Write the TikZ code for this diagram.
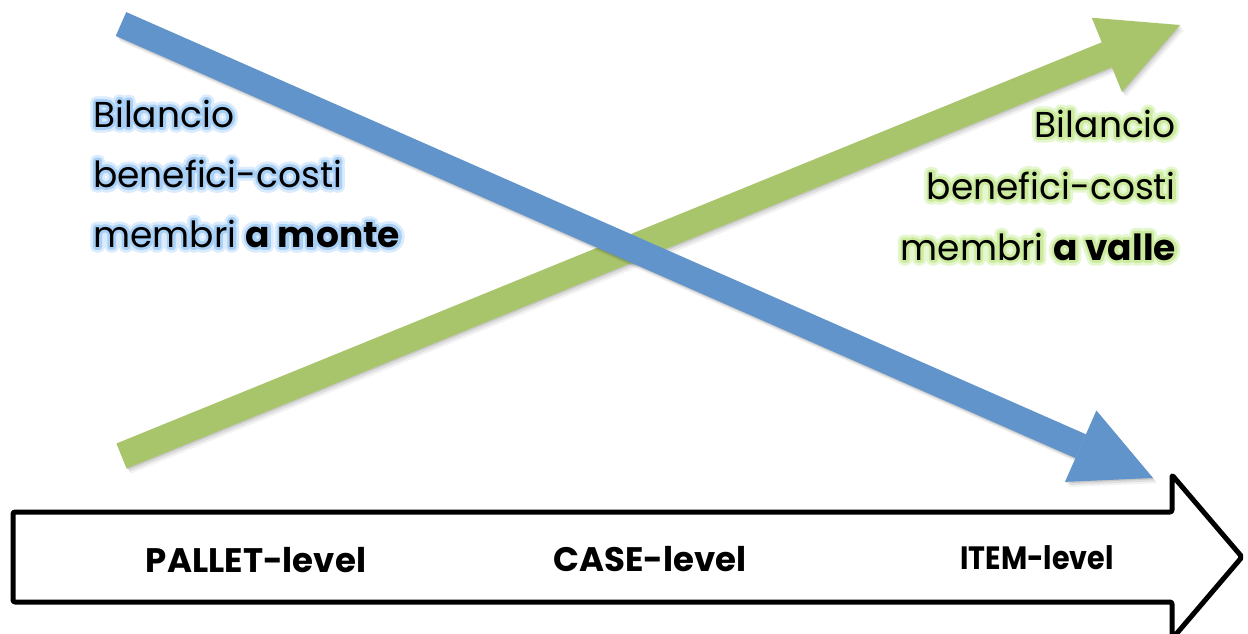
\documentclass[tikz,border=0pt]{standalone}
\usepackage{fontspec}
\setmainfont{Poppins}
\usetikzlibrary{arrows.meta}
\definecolor{bluearrow}{RGB}{96,148,203}
\definecolor{greenarrow}{RGB}{169,197,107}
% halo: stroked copies of the text (text render mode 1), then the text itself
\newcommand\halo[3]{\rlap{\special{pdf:literal direct 1 Tr 1 j 1 J 11 w #1 RG}#3\special{pdf:literal direct 0 Tr 0 0 0 RG}}\rlap{\special{pdf:literal direct 1 Tr 1 j 1 J 5.5 w #2 RG}#3\special{pdf:literal direct 0 Tr 0 0 0 RG 1 w}}#3}
\newcommand\blueglow[1]{\halo{0.85 0.92 0.99}{0.66 0.81 0.96}{#1}}
\newcommand\greenglow[1]{\halo{0.90 0.97 0.81}{0.80 0.92 0.62}{#1}}
\tikzset{
  bluearrowstyle/.style={draw=bluearrow, line width=26pt,
    -{Triangle[length=79pt,width=78pt,line width=0pt,fill=bluearrow]}},
  greenarrowstyle/.style={draw=greenarrow, line width=27pt,
    -{Triangle[length=79pt,width=80pt,line width=0pt,fill=greenarrow]}},
  toptext/.style={inner sep=0pt, font=\fontsize{36}{42}\selectfont},
  leveltext/.style={inner sep=0pt, font=\fontsize{34}{40}\selectfont\bfseries, anchor=base},
  levelarrow/.style={draw=black, fill=white, line width=5pt, line join=round, rounded corners=2pt}
}
\begin{document}
\begin{tikzpicture}[x=1pt,y=-1pt]
\useasboundingbox (0,0) rectangle (1248,634);
\clip (0,0) rectangle (1248,634);
\fill[white] (0,0) rectangle (1248,634);

\coordinate (gTail) at (121.5,456);
\coordinate (gTip) at (1180,25);
\coordinate (bTail) at (121,24);
\coordinate (bTip) at (1153,478);

% level arrow
\draw[levelarrow] (13,512) -- (1172,512) -- (1172,475) -- (1242,557) -- (1172,639) -- (1172,602) -- (13,602) -- cycle;
\node[leveltext] (pallet) at (256,572) {PALLET-level};
\node[leveltext] (case) at (650,571) {CASE-level};
\node[leveltext] (item) at (1037,569) {\scalebox{0.84}[0.95]{ITEM-level}};

% green arrow with shadow
\foreach \s/\o in {1/0.10,2.5/0.08,4/0.05}{
  \begin{scope}[transform canvas={shift={(\s pt,-1.3*\s pt)}}]
    \draw[greenarrowstyle, draw=black, opacity=\o, -{Triangle[length=79pt,width=80pt,line width=0pt,fill=black]}] (gTail) -- (gTip);
  \end{scope}
}
\draw[greenarrowstyle] (gTail) -- (gTip);

% blue arrow with shadow
\foreach \s/\o in {1/0.10,2.5/0.08,4/0.05}{
  \begin{scope}[transform canvas={shift={(\s pt,-1.3*\s pt)}}]
    \draw[bluearrowstyle, draw=black, opacity=\o, -{Triangle[length=79pt,width=78pt,line width=0pt,fill=black]}] (bTail) -- (bTip);
  \end{scope}
}
\draw[bluearrowstyle] (bTail) -- (bTip);

% left text
\node[toptext, anchor=base west] (l1) at (93,127) {\blueglow{Bilancio}};
\node[toptext, anchor=base west] (l2) at (93,187) {\blueglow{benefici-costi}};
\node[toptext, anchor=base west] (l3) at (93,247) {\blueglow{membri \textbf{a monte}}};

% right text
\node[toptext, anchor=base east] (r1) at (1176,137) {\greenglow{Bilancio}};
\node[toptext, anchor=base east] (r2) at (1176,199) {\greenglow{benefici-costi}};
\node[toptext, anchor=base east] (r3) at (1176,260) {\greenglow{membri \textbf{a valle}}};
\end{tikzpicture}
\end{document}
